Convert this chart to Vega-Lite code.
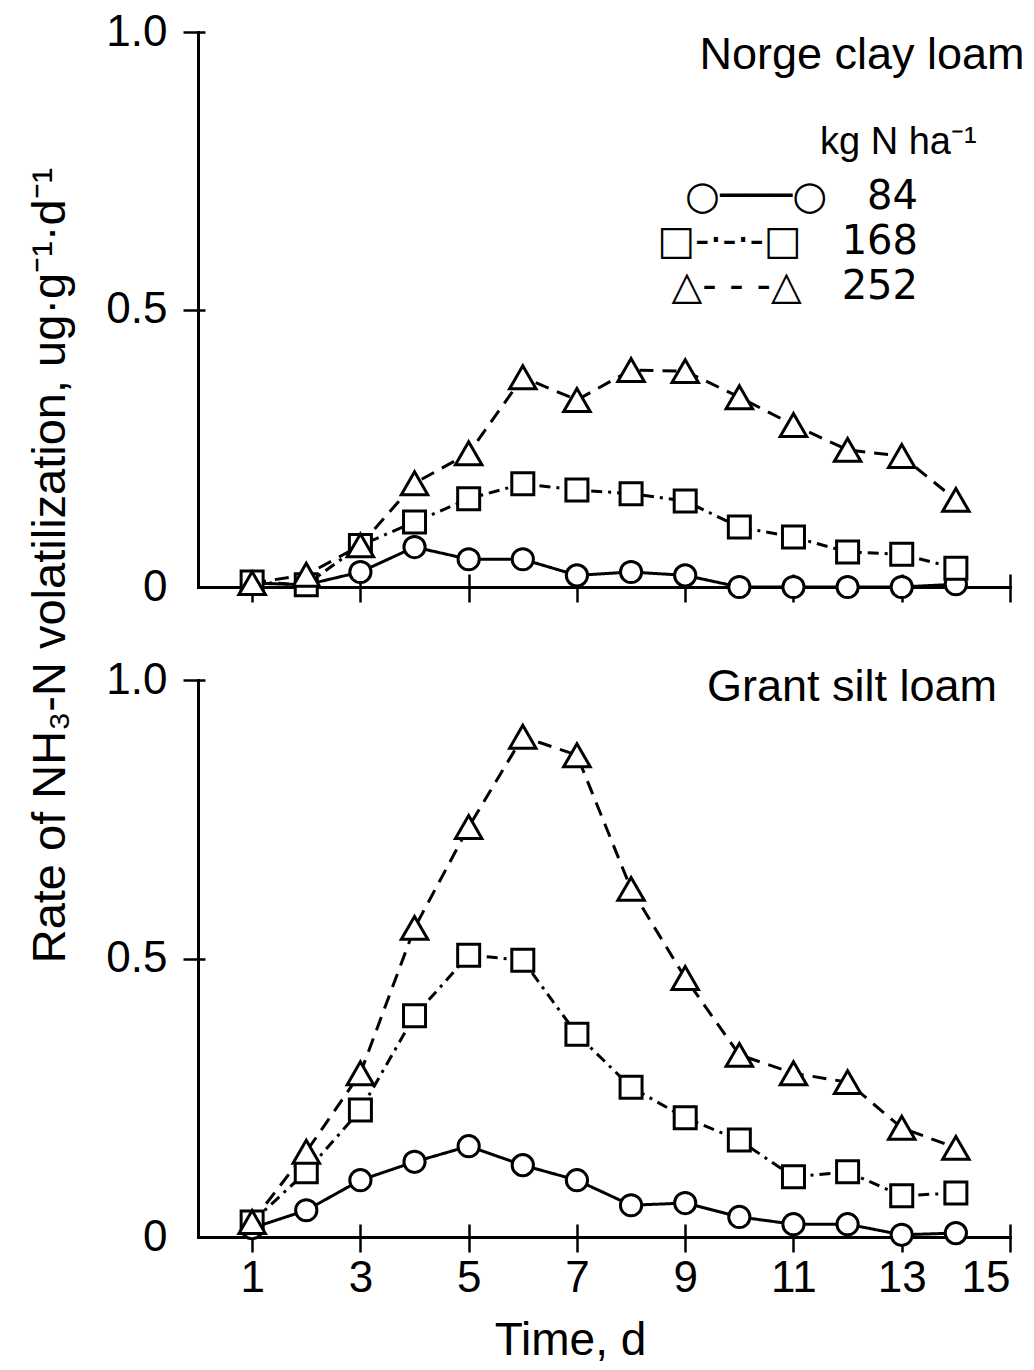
{
  "$schema": "https://vega.github.io/schema/vega-lite/v6.json",
  "background": "white",
  "padding": {"left": 25, "top": 10, "right": 0, "bottom": 0},
  "spacing": 93,
  "bounds": "flush",
  "config": {
    "view": {"stroke": null},
    "font": "Liberation Sans",
    "axis": {
      "domainColor": "black", "domainWidth": 3, "domainCap": "square",
      "tickColor": "black", "tickWidth": 2.5, "tickSize": 15,
      "labelColor": "black", "labelFont": "Liberation Sans", "labelFontSize": 44,
      "grid": false, "titleColor": "black", "titleFontWeight": "normal"
    },
    "legend": {
      "labelFont": "DejaVu Sans", "labelFontSize": 40, "labelColor": "black", "labelLimit": 600
    }
  },
  "datasets": {
    "rates": [
      {"soil": "Norge", "day": 1, "rate": "84", "value": 0.007},
      {"soil": "Norge", "day": 2, "rate": "84", "value": 0.004},
      {"soil": "Norge", "day": 3, "rate": "84", "value": 0.027},
      {"soil": "Norge", "day": 4, "rate": "84", "value": 0.072},
      {"soil": "Norge", "day": 5, "rate": "84", "value": 0.050},
      {"soil": "Norge", "day": 6, "rate": "84", "value": 0.050},
      {"soil": "Norge", "day": 7, "rate": "84", "value": 0.021},
      {"soil": "Norge", "day": 8, "rate": "84", "value": 0.027},
      {"soil": "Norge", "day": 9, "rate": "84", "value": 0.021},
      {"soil": "Norge", "day": 10, "rate": "84", "value": 0.0},
      {"soil": "Norge", "day": 11, "rate": "84", "value": 0.0},
      {"soil": "Norge", "day": 12, "rate": "84", "value": 0.0},
      {"soil": "Norge", "day": 13, "rate": "84", "value": 0.0},
      {"soil": "Norge", "day": 14, "rate": "84", "value": 0.005},
      {"soil": "Norge", "day": 1, "rate": "168", "value": 0.009},
      {"soil": "Norge", "day": 2, "rate": "168", "value": 0.004},
      {"soil": "Norge", "day": 3, "rate": "168", "value": 0.075},
      {"soil": "Norge", "day": 4, "rate": "168", "value": 0.117},
      {"soil": "Norge", "day": 5, "rate": "168", "value": 0.159},
      {"soil": "Norge", "day": 6, "rate": "168", "value": 0.186},
      {"soil": "Norge", "day": 7, "rate": "168", "value": 0.175},
      {"soil": "Norge", "day": 8, "rate": "168", "value": 0.168},
      {"soil": "Norge", "day": 9, "rate": "168", "value": 0.155},
      {"soil": "Norge", "day": 10, "rate": "168", "value": 0.108},
      {"soil": "Norge", "day": 11, "rate": "168", "value": 0.090},
      {"soil": "Norge", "day": 12, "rate": "168", "value": 0.063},
      {"soil": "Norge", "day": 13, "rate": "168", "value": 0.059},
      {"soil": "Norge", "day": 14, "rate": "168", "value": 0.034},
      {"soil": "Norge", "day": 1, "rate": "252", "value": 0.007},
      {"soil": "Norge", "day": 2, "rate": "252", "value": 0.022},
      {"soil": "Norge", "day": 3, "rate": "252", "value": 0.075},
      {"soil": "Norge", "day": 4, "rate": "252", "value": 0.187},
      {"soil": "Norge", "day": 5, "rate": "252", "value": 0.241},
      {"soil": "Norge", "day": 6, "rate": "252", "value": 0.378},
      {"soil": "Norge", "day": 7, "rate": "252", "value": 0.337},
      {"soil": "Norge", "day": 8, "rate": "252", "value": 0.391},
      {"soil": "Norge", "day": 9, "rate": "252", "value": 0.389},
      {"soil": "Norge", "day": 10, "rate": "252", "value": 0.342},
      {"soil": "Norge", "day": 11, "rate": "252", "value": 0.292},
      {"soil": "Norge", "day": 12, "rate": "252", "value": 0.247},
      {"soil": "Norge", "day": 13, "rate": "252", "value": 0.236},
      {"soil": "Norge", "day": 14, "rate": "252", "value": 0.157},
      {"soil": "Grant", "day": 1, "rate": "84", "value": 0.016},
      {"soil": "Grant", "day": 2, "rate": "84", "value": 0.048},
      {"soil": "Grant", "day": 3, "rate": "84", "value": 0.102},
      {"soil": "Grant", "day": 4, "rate": "84", "value": 0.135},
      {"soil": "Grant", "day": 5, "rate": "84", "value": 0.163},
      {"soil": "Grant", "day": 6, "rate": "84", "value": 0.129},
      {"soil": "Grant", "day": 7, "rate": "84", "value": 0.102},
      {"soil": "Grant", "day": 8, "rate": "84", "value": 0.057},
      {"soil": "Grant", "day": 9, "rate": "84", "value": 0.061},
      {"soil": "Grant", "day": 10, "rate": "84", "value": 0.036},
      {"soil": "Grant", "day": 11, "rate": "84", "value": 0.023},
      {"soil": "Grant", "day": 12, "rate": "84", "value": 0.023},
      {"soil": "Grant", "day": 13, "rate": "84", "value": 0.004},
      {"soil": "Grant", "day": 14, "rate": "84", "value": 0.007},
      {"soil": "Grant", "day": 1, "rate": "168", "value": 0.027},
      {"soil": "Grant", "day": 2, "rate": "168", "value": 0.117},
      {"soil": "Grant", "day": 3, "rate": "168", "value": 0.228},
      {"soil": "Grant", "day": 4, "rate": "168", "value": 0.397},
      {"soil": "Grant", "day": 5, "rate": "168", "value": 0.506},
      {"soil": "Grant", "day": 6, "rate": "168", "value": 0.497},
      {"soil": "Grant", "day": 7, "rate": "168", "value": 0.364},
      {"soil": "Grant", "day": 8, "rate": "168", "value": 0.269},
      {"soil": "Grant", "day": 9, "rate": "168", "value": 0.214},
      {"soil": "Grant", "day": 10, "rate": "168", "value": 0.174},
      {"soil": "Grant", "day": 11, "rate": "168", "value": 0.108},
      {"soil": "Grant", "day": 12, "rate": "168", "value": 0.117},
      {"soil": "Grant", "day": 13, "rate": "168", "value": 0.074},
      {"soil": "Grant", "day": 14, "rate": "168", "value": 0.079},
      {"soil": "Grant", "day": 1, "rate": "252", "value": 0.027},
      {"soil": "Grant", "day": 2, "rate": "252", "value": 0.153},
      {"soil": "Grant", "day": 3, "rate": "252", "value": 0.294},
      {"soil": "Grant", "day": 4, "rate": "252", "value": 0.555},
      {"soil": "Grant", "day": 5, "rate": "252", "value": 0.736},
      {"soil": "Grant", "day": 6, "rate": "252", "value": 0.898},
      {"soil": "Grant", "day": 7, "rate": "252", "value": 0.865},
      {"soil": "Grant", "day": 8, "rate": "252", "value": 0.625},
      {"soil": "Grant", "day": 9, "rate": "252", "value": 0.465},
      {"soil": "Grant", "day": 10, "rate": "252", "value": 0.327},
      {"soil": "Grant", "day": 11, "rate": "252", "value": 0.294},
      {"soil": "Grant", "day": 12, "rate": "252", "value": 0.278},
      {"soil": "Grant", "day": 13, "rate": "252", "value": 0.196},
      {"soil": "Grant", "day": 14, "rate": "252", "value": 0.160}
    ]
  },
  "resolve": {
    "scale": {"x": "independent", "y": "independent", "shape": "independent"},
    "legend": {"shape": "independent"}
  },
  "vconcat": [
    {
      "width": 812,
      "height": 555,
      "resolve": {"axis": {"x": "independent", "y": "independent"}},
      "layer": [
        {
          "data": {"name": "rates"},
          "transform": [{"filter": "datum.soil == 'Norge'"}],
          "mark": {"type": "line", "color": "black", "strokeWidth": 3, "clip": false},
          "encoding": {
            "x": {"field": "day", "type": "quantitative", "scale": {"domain": [0, 15], "nice": false},
                  "axis": {"values": [1, 3, 5, 7, 9, 11, 13, 15], "labels": false, "title": null}},
            "y": {"field": "value", "type": "quantitative", "scale": {"domain": [0, 1], "nice": false},
                  "axis": {"values": [0, 0.5, 1], "title": null, "labelPadding": 16,
                           "labelExpr": "datum.value == 0 ? '0' : format(datum.value, '.1f')",
                           "tickOpacity": {"condition": {"test": "datum.value == 0", "value": 0}, "value": 1}}},
            "strokeDash": {"field": "rate", "type": "nominal", "legend": null,
              "scale": {"domain": ["84", "168", "252"], "range": [[1, 0], [11, 6, 3, 6], [14, 9]]}},
            "order": {"field": "day"}
          }
        },
        {
          "data": {"name": "rates"},
          "transform": [{"filter": "datum.soil == 'Norge' && datum.rate == '84'"}],
          "mark": {"type": "point", "shape": "circle", "size": 450, "fill": "white", "stroke": "black", "strokeWidth": 3, "opacity": 1, "clip": false},
          "encoding": {
            "x": {"field": "day", "type": "quantitative",
                  "axis": {"orient": "bottom", "values": [1, 3, 5, 7, 9, 11, 13, 15], "tickSize": -13, "labels": false, "domain": false, "title": null}},
            "y": {"field": "value", "type": "quantitative",
                  "axis": {"orient": "left", "values": [0.5, 1], "tickSize": -7, "labels": false, "domain": false, "title": null}}
          }
        },
        {
          "data": {"name": "rates"},
          "transform": [{"filter": "datum.soil == 'Norge' && datum.rate == '168'"}],
          "mark": {"type": "point", "shape": "square", "size": 484, "fill": "white", "stroke": "black", "strokeWidth": 3, "opacity": 1, "clip": false},
          "encoding": {
            "x": {"field": "day", "type": "quantitative", "axis": null},
            "y": {"field": "value", "type": "quantitative", "axis": null}
          }
        },
        {
          "data": {"name": "rates"},
          "transform": [{"filter": "datum.soil == 'Norge' && datum.rate == '252'"}],
          "mark": {"type": "point", "shape": "triangle-up", "size": 700, "fill": "white", "stroke": "black", "strokeWidth": 3, "opacity": 1, "clip": false},
          "encoding": {
            "x": {"field": "day", "type": "quantitative", "axis": null},
            "y": {"field": "value", "type": "quantitative", "axis": null}
          }
        },
        {
          "data": {"name": "rates"},
          "transform": [{"filter": "datum.day > 100"}],
          "mark": {"type": "point", "size": 0, "fill": "white", "stroke": "black", "opacity": 1},
          "encoding": {
            "x": {"field": "day", "type": "quantitative", "axis": null},
            "y": {"field": "value", "type": "quantitative", "axis": null},
            "shape": {"field": "rate", "type": "nominal",
              "scale": {"domain": ["84", "168", "252"], "range": ["circle", "square", "triangle-up"]},
              "legend": {
                "title": null, "orient": "none", "legendX": 462, "legendY": 145,
                "padding": 0, "labelLimit": 600,
                "symbolSize": 0, "symbolOpacity": 0, "symbolStrokeWidth": 0,
                "symbolOffset": 0, "labelOffset": 218, "labelAlign": "right", "rowPadding": 5,
                "labelExpr": "datum.label == '84' ? '○───○\u2002\u200284' : datum.label == '168' ? '□-·-·-□\u2002\u2002168' : '△- - -△\u2002\u2002252'"
              }
            }
          }
        },
        {
          "data": {"values": [{"label": "Norge clay loam"}]},
          "mark": {"type": "text", "align": "right", "baseline": "middle", "font": "Liberation Sans", "fontSize": 45, "color": "black", "clip": false},
          "encoding": {
            "x": {"datum": 15.27, "type": "quantitative", "axis": null},
            "y": {"datum": 0.958, "type": "quantitative", "axis": null},
            "text": {"field": "label", "type": "nominal"}
          }
        },
        {
          "data": {"values": [{"label": "kg N ha⁻¹"}]},
          "mark": {"type": "text", "align": "left", "baseline": "middle", "font": "Liberation Sans", "fontSize": 38, "color": "black", "clip": false},
          "encoding": {
            "x": {"datum": 11.49, "type": "quantitative", "axis": null},
            "y": {"datum": 0.80, "type": "quantitative", "axis": null},
            "text": {"field": "label", "type": "nominal"}
          }
        }
      ]
    },
    {
      "width": 812,
      "height": 557,
      "resolve": {"axis": {"x": "independent", "y": "independent"}},
      "layer": [
        {
          "data": {"name": "rates"},
          "transform": [{"filter": "datum.soil == 'Grant'"}],
          "mark": {"type": "line", "color": "black", "strokeWidth": 3, "clip": false},
          "encoding": {
            "x": {"field": "day", "type": "quantitative", "scale": {"domain": [0, 15], "nice": false},
                  "axis": {"values": [1, 3, 5, 7, 9, 11, 13, 15], "title": "Time, d", "labelPadding": 4,
                           "titleFont": "Liberation Sans", "titleFontSize": 46, "titlePadding": 18, "titleX": 372}},
            "y": {"field": "value", "type": "quantitative", "scale": {"domain": [0, 1], "nice": false},
                  "axis": {"values": [0, 0.5, 1], "labelPadding": 16,
                           "labelExpr": "datum.value == 0 ? '0' : format(datum.value, '.1f')",
                           "tickOpacity": {"condition": {"test": "datum.value == 0", "value": 0}, "value": 1},
                           "title": "Rate of NH₃-N volatilization, ug·g⁻¹·d⁻¹",
                           "titleFont": "Liberation Sans", "titleFontSize": 47, "titleX": -134, "titleY": -115,
                           "titleAlign": "center", "titleBaseline": "alphabetic", "titleAngle": -90}},
            "strokeDash": {"field": "rate", "type": "nominal", "legend": null,
              "scale": {"domain": ["84", "168", "252"], "range": [[1, 0], [11, 6, 3, 6], [14, 9]]}},
            "order": {"field": "day"}
          }
        },
        {
          "data": {"name": "rates"},
          "transform": [{"filter": "datum.soil == 'Grant' && datum.rate == '84'"}],
          "mark": {"type": "point", "shape": "circle", "size": 450, "fill": "white", "stroke": "black", "strokeWidth": 3, "opacity": 1, "clip": false},
          "encoding": {
            "x": {"field": "day", "type": "quantitative",
                  "axis": {"orient": "bottom", "values": [1, 3, 5, 7, 9, 11, 13, 15], "tickSize": -13, "labels": false, "domain": false, "title": null}},
            "y": {"field": "value", "type": "quantitative",
                  "axis": {"orient": "left", "values": [0.5, 1], "tickSize": -7, "labels": false, "domain": false, "title": null}}
          }
        },
        {
          "data": {"name": "rates"},
          "transform": [{"filter": "datum.soil == 'Grant' && datum.rate == '168'"}],
          "mark": {"type": "point", "shape": "square", "size": 484, "fill": "white", "stroke": "black", "strokeWidth": 3, "opacity": 1, "clip": false},
          "encoding": {
            "x": {"field": "day", "type": "quantitative", "axis": null},
            "y": {"field": "value", "type": "quantitative", "axis": null}
          }
        },
        {
          "data": {"name": "rates"},
          "transform": [{"filter": "datum.soil == 'Grant' && datum.rate == '252'"}],
          "mark": {"type": "point", "shape": "triangle-up", "size": 700, "fill": "white", "stroke": "black", "strokeWidth": 3, "opacity": 1, "clip": false},
          "encoding": {
            "x": {"field": "day", "type": "quantitative", "axis": null},
            "y": {"field": "value", "type": "quantitative", "axis": null}
          }
        },
        {
          "data": {"values": [{"label": "Grant silt loam"}]},
          "mark": {"type": "text", "align": "right", "baseline": "middle", "font": "Liberation Sans", "fontSize": 45, "color": "black", "clip": false},
          "encoding": {
            "x": {"datum": 14.76, "type": "quantitative", "axis": null},
            "y": {"datum": 0.987, "type": "quantitative", "axis": null},
            "text": {"field": "label", "type": "nominal"}
          }
        }
      ]
    }
  ]
}
